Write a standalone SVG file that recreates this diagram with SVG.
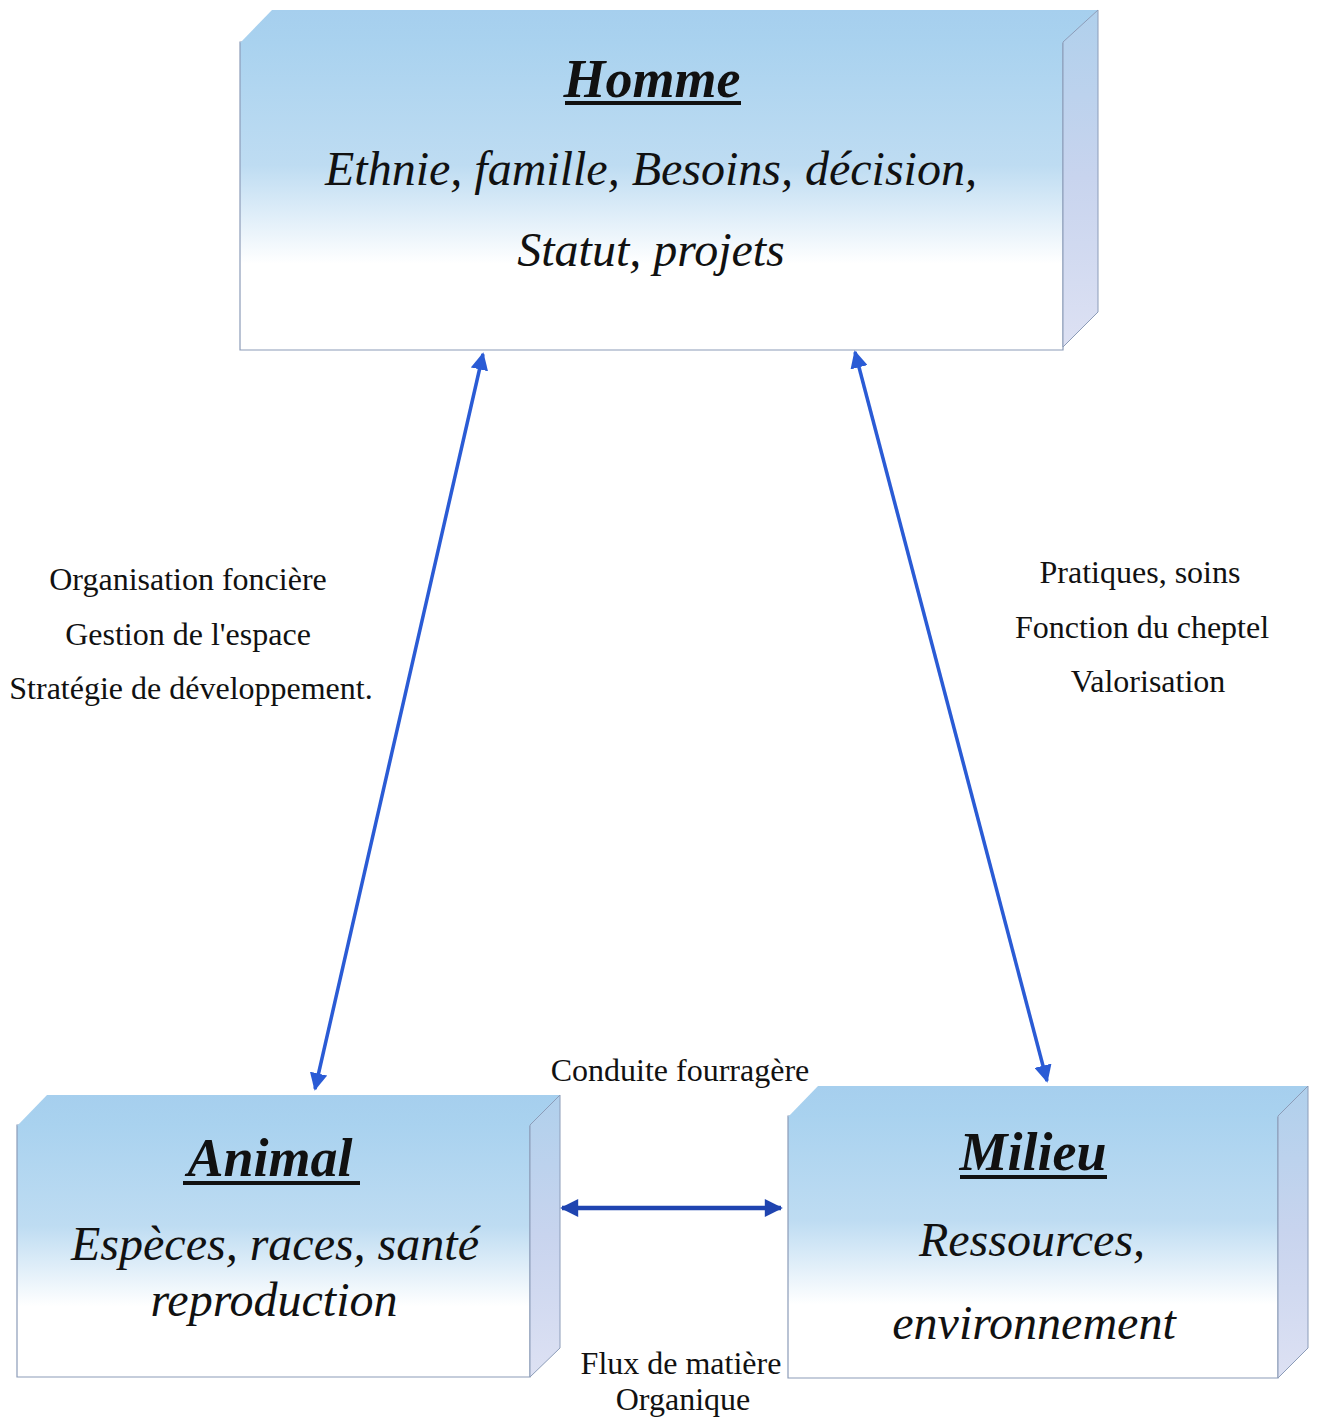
<svg xmlns="http://www.w3.org/2000/svg" width="1317" height="1419" viewBox="0 0 1317 1419">
<defs>
<linearGradient id="front" x1="0" y1="0" x2="0" y2="1">
<stop offset="0" stop-color="#a9d2ef"/>
<stop offset="0.4" stop-color="#bedcf2"/>
<stop offset="0.72" stop-color="#ffffff"/>
<stop offset="1" stop-color="#ffffff"/>
</linearGradient>
<linearGradient id="topf" x1="0" y1="0" x2="0" y2="1">
<stop offset="0" stop-color="#a6cfee"/>
<stop offset="1" stop-color="#a9d2ef"/>
</linearGradient>
<linearGradient id="side" x1="0" y1="0" x2="0" y2="1">
<stop offset="0" stop-color="#b0d0ec"/>
<stop offset="0.5" stop-color="#c8d4ee"/>
<stop offset="1" stop-color="#dde1f3"/>
</linearGradient>
<marker id="ah" viewBox="0 0 10 10" refX="9" refY="5" markerWidth="5" markerHeight="5" orient="auto-start-reverse" markerUnits="strokeWidth">
<path d="M0,0 L10,5 L0,10 Z" fill="#2a5bd5"/>
</marker>
<marker id="ah2" viewBox="0 0 10 10" refX="9" refY="5" markerWidth="4.5" markerHeight="4" orient="auto-start-reverse" markerUnits="strokeWidth">
<path d="M0,0 L10,5 L0,10 Z" fill="#1f44b0"/>
</marker>
</defs>
<style>
.front{fill:url(#front);stroke:#8c9cb8;stroke-width:1.2}
.top{fill:url(#topf);stroke:none}
.side{fill:url(#side);stroke:#8c9cb8;stroke-width:1}
.title{font-family:"Liberation Serif",serif;font-weight:bold;font-style:italic;font-size:54px;fill:#111;text-anchor:middle}
.body{font-family:"Liberation Serif",serif;font-style:italic;font-size:48px;fill:#111;text-anchor:middle}
.lbl{font-family:"Liberation Serif",serif;font-size:32px;fill:#111;text-anchor:middle}
.ul{stroke:#111;stroke-width:4}
.conn{stroke:#2a5bd5;stroke-width:3.5;fill:none}
</style>
<rect width="1317" height="1419" fill="#ffffff"/>

<g id="homme">
<path class="front" d="M240,42 L1063,42 L1063,350 L240,350 Z"/>
<path class="top" d="M240,43 L272,10 L1098,10 L1063,43 Z"/>
<path class="side" d="M1063,42 L1098,10 L1098,312 L1063,347 Z"/>
<text class="title" x="652" y="97">Homme</text>
<line class="ul" x1="565" y1="103" x2="741" y2="103"/>
<text class="body" x="651" y="185">Ethnie, famille, Besoins, décision,</text>
<text class="body" x="651" y="266">Statut, projets</text>
</g>

<g id="animal">
<path class="front" d="M17,1125 L530,1125 L530,1377 L17,1377 Z"/>
<path class="top" d="M17,1126 L47,1095 L560,1095 L530,1126 Z"/>
<path class="side" d="M530,1125 L560,1095 L560,1348 L530,1377 Z"/>
<text class="title" x="270" y="1176">Animal</text>
<line class="ul" x1="183" y1="1183" x2="360" y2="1183"/>
<text class="body" x="275" y="1260">Espèces, races, santé</text>
<text class="body" x="274" y="1316">reproduction</text>
</g>

<g id="milieu">
<path class="front" d="M788,1116 L1278,1116 L1278,1378 L788,1378 Z"/>
<path class="top" d="M788,1117 L818,1086 L1308,1086 L1278,1117 Z"/>
<path class="side" d="M1278,1116 L1308,1086 L1308,1348 L1278,1378 Z"/>
<text class="title" x="1033" y="1170">Milieu</text>
<line class="ul" x1="960" y1="1177" x2="1107" y2="1177"/>
<text class="body" x="1032" y="1256">Ressources,</text>
<text class="body" x="1034" y="1339">environnement</text>
</g>

<g id="connectors">
<line class="conn" x1="483" y1="354" x2="315" y2="1089" marker-start="url(#ah)" marker-end="url(#ah)"/>
<line class="conn" x1="855" y1="352" x2="1047" y2="1081" marker-start="url(#ah)" marker-end="url(#ah)"/>
<line class="conn" style="stroke:#1f44b0;stroke-width:4.5" x1="562" y1="1208" x2="781" y2="1208" marker-start="url(#ah2)" marker-end="url(#ah2)"/>
</g>

<g id="labels">
<text class="lbl" x="188" y="590">Organisation foncière</text>
<text class="lbl" x="188" y="645">Gestion de l'espace</text>
<text class="lbl" x="191" y="699">Stratégie de développement.</text>
<text class="lbl" x="1140" y="583">Pratiques, soins</text>
<text class="lbl" x="1142" y="638">Fonction du cheptel</text>
<text class="lbl" x="1148" y="692">Valorisation</text>
<text class="lbl" x="680" y="1081">Conduite fourragère</text>
<text class="lbl" x="681" y="1374">Flux de matière</text>
<text class="lbl" x="683" y="1410">Organique</text>
</g>
</svg>
